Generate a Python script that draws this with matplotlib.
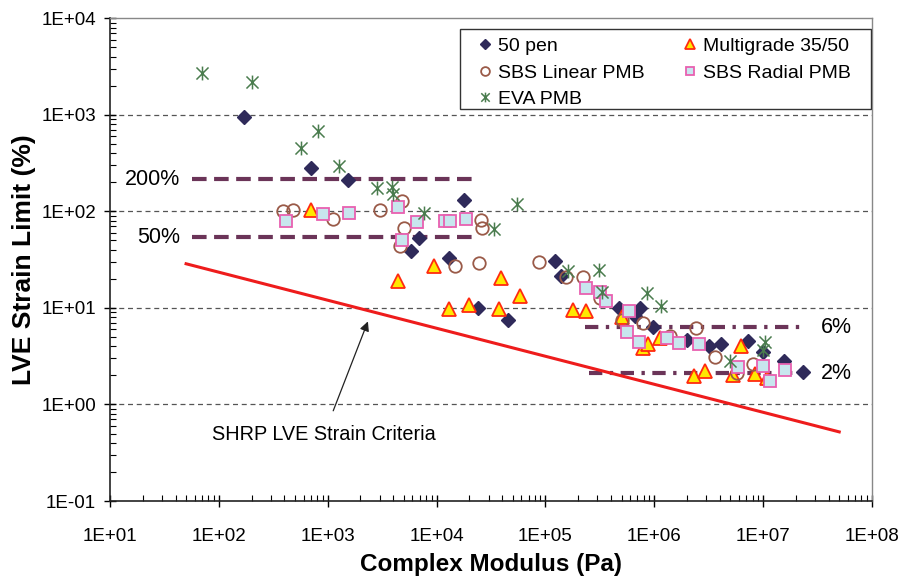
import matplotlib
matplotlib.use("Agg")
import matplotlib.pyplot as plt
from matplotlib.path import Path
from matplotlib.patches import Rectangle
import numpy as np

plt.rcParams['font.family'] = ['Liberation Sans', 'DejaVu Sans']

# ---- data (Complex modulus Pa, LVE strain limit %) ----
pen50_x = [171, 707, 1540, 17700, 6860, 5850, 13000, 24000, 45000, 123000, 139000,
           475000, 740000, 665000, 980000, 2.0e6, 3.2e6, 4.1e6, 7.2e6, 1.0e7, 1.55e7, 2.3e7]
pen50_y = [960, 280, 210, 130, 53, 38.5, 33, 10, 7.5, 31, 21.5,
           10, 10, 8.3, 6.4, 4.7, 4.0, 4.2, 4.5, 3.5, 2.8, 2.15]

multi_x = [700, 4400, 9400, 13000, 20000, 37500, 39000, 59000, 178000, 237000, 510000,
           790000, 875000, 1.13e6, 2.3e6, 2.9e6, 5.3e6, 6.2e6, 8.4e6, 1.08e7]
multi_y = [103, 19, 27, 9.8, 10.8, 9.8, 20.5, 13.2, 9.6, 9.4, 8.0,
           3.85, 4.2, 4.9, 1.95, 2.2, 2.0, 4.0, 2.05, 1.9]

sbsl_x = [390, 480, 1120, 3040, 4800, 5000, 4570, 14800, 24600, 25800, 26400, 88000,
          155000, 220000, 320000, 510000, 780000, 1.4e6, 2.4e6, 3.6e6, 5.7e6, 8.1e6]
sbsl_y = [100, 104, 84, 103, 127, 67, 44, 27, 29, 82, 68, 30,
          21, 21, 12.7, 7.5, 7.0, 5.1, 6.2, 3.1, 2.1, 2.6]

sbsr_x = [410, 900, 1560, 4400, 4800, 6600, 12000, 13400, 18800, 236000, 320000, 360000,
          590000, 560000, 720000, 1.3e6, 1.7e6, 2.55e6, 5.9e6, 9.9e6, 1.15e7, 1.6e7]
sbsr_y = [79, 94, 97, 111, 50, 77, 79, 79, 84, 16, 14.8, 11.7,
          9.2, 5.7, 4.4, 4.9, 4.3, 4.2, 2.45, 2.5, 1.75, 2.25]

eva_x = [70, 200, 570, 820, 1270, 2850, 3900, 3950, 7600, 33500, 55000, 160000,
         310000, 330000, 850000, 1.16e6, 5.0e6, 1.04e7, 1.0e7]
eva_y = [2750, 2200, 450, 680, 295, 175, 180, 152, 96, 66, 120, 24,
         25, 14.5, 14.3, 10.5, 2.8, 4.4, 3.7]

# reference levels
lvl200_x = [57, 24000]; lvl200_y = [215, 215]
lvl50_x = [57, 24000];  lvl50_y = [54, 54]
lvl6_x = [2.3e5, 2.2e7]; lvl6_y = [6.3, 6.3]
lvl2_x = [2.5e5, 2.2e7]; lvl2_y = [2.1, 2.1]

# SHRP criteria line endpoints
shrp_x = [50, 5.0e7]
shrp_y = [28.7, 0.52]

xticks = [1e1, 1e2, 1e3, 1e4, 1e5, 1e6, 1e7, 1e8]
xticklabels = ['1E+01', '1E+02', '1E+03', '1E+04', '1E+05', '1E+06', '1E+07', '1E+08']
yticks = [1e-1, 1e0, 1e1, 1e2, 1e3, 1e4]
yticklabels = ['1E-01', '1E+00', '1E+01', '1E+02', '1E+03', '1E+04']

# ---- figure ----
fig = plt.figure(figsize=(9.06, 5.78), dpi=100)
ax = fig.add_axes([110/906, 1-501/578, (872-110)/906, (501-18.4)/578])
ax.set_xscale('log'); ax.set_yscale('log')
ax.set_xlim(1e1, 1e8); ax.set_ylim(1e-1, 1e4)

for yv in yticks[1:-1]:
    ax.axhline(yv, color='#555555', lw=0.9, ls=(0, (4, 3)), zorder=1)

star = Path([(-1, -1), (1, 1), (-1, 1), (1, -1), (0, -1.15), (0, 1.15)],
            [Path.MOVETO, Path.LINETO, Path.MOVETO, Path.LINETO, Path.MOVETO, Path.LINETO])

lc = '#6b3458'
ax.plot(lvl200_x, lvl200_y, color=lc, lw=3, ls=(0, (3.5, 1.8)), zorder=2)
ax.plot(lvl50_x, lvl50_y, color=lc, lw=3, ls=(0, (3.5, 1.8)), zorder=2)
ax.plot(lvl6_x, lvl6_y, color=lc, lw=3, ls=(0, (3.2, 1.8, 0.8, 1.8)), zorder=2)
ax.plot(lvl2_x, lvl2_y, color=lc, lw=3, ls=(0, (3.2, 1.8, 0.8, 1.8)), zorder=2)
ax.plot(shrp_x, shrp_y, color='#ee1c1c', lw=2.2, zorder=2)

ax.plot(pen50_x, pen50_y, ls='none', marker='D', ms=7, mfc='#2f2a5a', mec='#2f2a5a',
        label='50 pen', zorder=4)
ax.plot(multi_x, multi_y, ls='none', marker='^', ms=9.5, mfc='#ffe800', mec='#ff2a10',
        mew=1.3, label='Multigrade 35/50', zorder=4)
ax.plot(sbsl_x, sbsl_y, ls='none', marker='o', ms=9, mfc='none', mec='#9a5a48',
        mew=1.3, label='SBS Linear PMB', zorder=4)
ax.plot(sbsr_x, sbsr_y, ls='none', marker='s', ms=9, mfc='#c8e6ee', mec='#e860b0',
        mew=1.3, label='SBS Radial PMB', zorder=4)
ax.plot(eva_x, eva_y, ls='none', marker=star, ms=10, mfc='none', mec='#4a7c4e',
        mew=1.1, label='EVA PMB', zorder=4)

ax.text(44, lvl200_y[0], '200%', ha='right', va='center', fontsize=15.5)
ax.text(44, lvl50_y[0], '50%', ha='right', va='center', fontsize=15.5)
ax.text(3.4e7, lvl6_y[0], '6%', ha='left', va='center', fontsize=15.5)
ax.text(3.4e7, lvl2_y[0], '2%', ha='left', va='center', fontsize=15.5)

ax.annotate('SHRP LVE Strain Criteria', xy=(2340, 7.25), xytext=(923, 0.486),
            ha='center', va='center', fontsize=14.3,
            arrowprops=dict(arrowstyle='-|>', color='#222222', lw=0.9,
                            mutation_scale=14, shrinkA=9, shrinkB=0))

ax.set_xticks(xticks); ax.set_xticklabels(xticklabels)
ax.set_yticks(yticks); ax.set_yticklabels(yticklabels)
ax.tick_params(which='major', direction='inout', length=8, width=1, labelsize=13.5, pad=6)
ax.tick_params(which='minor', direction='in', length=4, width=0.8)
ax.tick_params(axis='x', pad=15.5)
for s in ['left', 'bottom']:
    ax.spines[s].set_color('#222222'); ax.spines[s].set_linewidth(1.2)
for s in ['top', 'right']:
    ax.spines[s].set_color('#888888'); ax.spines[s].set_linewidth(1.0)

ax.set_xlabel('Complex Modulus (Pa)', fontsize=17.5, fontweight='bold', labelpad=6)
ax.set_ylabel('LVE Strain Limit (%)', fontsize=19, fontweight='bold', labelpad=4)

# legend frame box
ax.add_patch(Rectangle((0.4593, 0.812), 0.9987 - 0.4593, 0.978 - 0.812,
                       transform=ax.transAxes, facecolor='white', edgecolor='#333333',
                       lw=1.0, zorder=5))

handles, labels = ax.get_legend_handles_labels()
order = [0, 2, 4, 1, 3]
leg = ax.legend([handles[i] for i in order], [labels[i] for i in order], ncol=2,
                loc='upper left', bbox_to_anchor=(0.4646, 0.9843),
                fontsize=14, frameon=False,
                borderaxespad=0,
                handlelength=1.0, handletextpad=0.15, labelspacing=0.45,
                columnspacing=1.85, markerscale=0.7, borderpad=0.6)
leg.set_zorder(6)

fig.savefig('out.png', dpi=100)
